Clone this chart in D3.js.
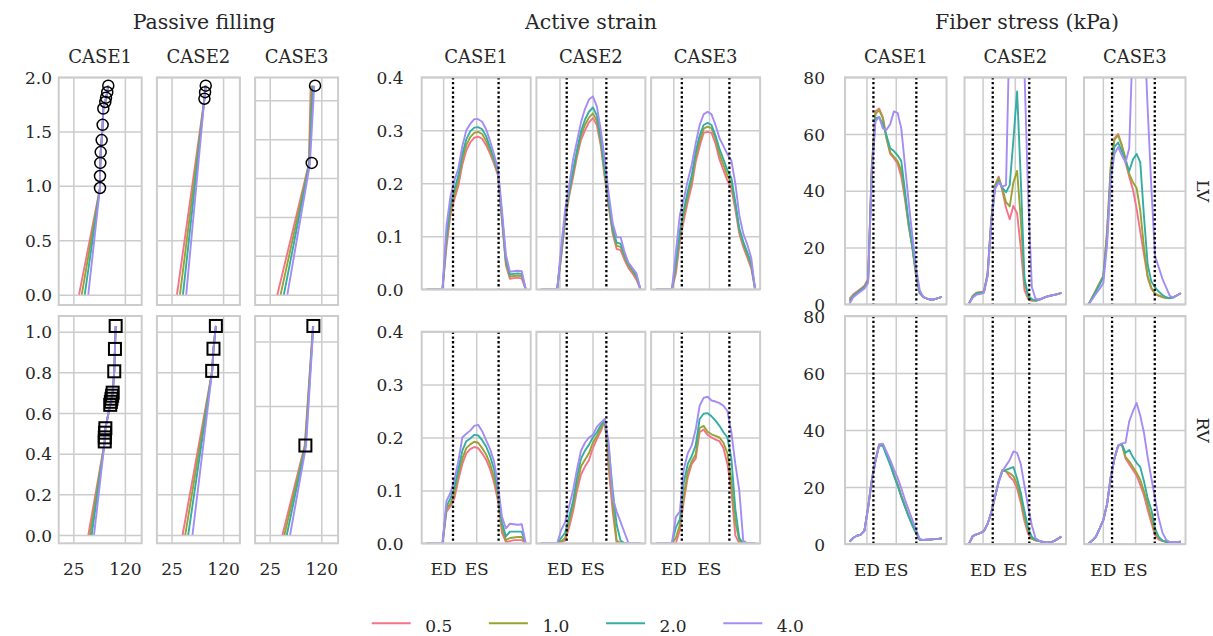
<!DOCTYPE html>
<html><head><meta charset="utf-8">
<script src="https://cdn.jsdelivr.net/npm/d3@7"></script>
<style>
body{margin:0;background:#fff}
svg{display:block}
text{font-family:"DejaVu Serif",serif;fill:#262626}
</style>
</head><body>
<svg id="chart" width="1213" height="636"></svg>
<script>
// ---------------- DATA ----------------
const factors = ["0.5","1.0","2.0","4.0"];
const colors = ["#f77189","#97a431","#36ada4","#a48cf4"];
const cases = ["CASE1","CASE2","CASE3"];
const rows = ["LV","RV"];
const groupTitles = ["Passive filling","Active strain","Fiber stress (kPa)"];
const passiveXTicks = [25,120];
const eventLabels = ["ED","ES"];

// normalized cycle time
const time = [0,0.04,0.08,0.12,0.16,0.2,0.24,0.28,0.32,0.36,0.4,0.44,0.48,0.52,0.56,0.6,0.64,0.68,0.72,0.76,0.8,0.84,0.88,0.92,0.96,1];

// ED / ES tick positions and dotted event lines (per case)
const strainTicks = [[0.166,0.50],[0.183,0.516],[0.174,0.534]];
const strainDots  = [[0.266,0.726],[0.256,0.656],[0.26,0.74]];
const stressTicks = [[0.182,0.50],[0.146,0.495],[0.154,0.504]];
const stressDots  = [[0.258,0.723],[0.256,0.652],[0.254,0.717]];

// Active strain LV (factor 0.5, 1.0, 2.0, 4.0)
const strainLV1 = [
 [0,0,0,0,0,.08,.14,.17,.195,.235,.262,.277,.286,.288,.284,.272,.256,.237,.215,.13,.045,.02,.021,.022,.02,0],
 [0,0,0,0,0,.09,.15,.178,.205,.245,.272,.287,.295,.297,.293,.28,.262,.242,.218,.135,.05,.024,.025,.026,.025,0],
 [0,0,0,0,0,.10,.16,.188,.215,.255,.283,.298,.305,.306,.302,.289,.268,.247,.221,.14,.056,.028,.029,.03,.029,0],
 [0,0,0,0,0,.12,.175,.205,.228,.27,.30,.312,.321,.321,.316,.302,.28,.255,.226,.15,.065,.033,.034,.035,.034,0]];
const strainLV2 = [
 [0,0,0,0,0,.06,.13,.175,.212,.25,.282,.3,.315,.323,.31,.27,.21,.155,.105,.076,.074,.055,.04,.03,.018,0],
 [0,0,0,0,0,.065,.135,.18,.218,.256,.29,.31,.324,.332,.318,.278,.216,.16,.11,.082,.08,.06,.044,.034,.022,0],
 [0,0,0,0,0,.07,.14,.185,.225,.263,.298,.32,.335,.343,.328,.285,.224,.166,.115,.088,.086,.065,.048,.038,.025,0],
 [0,0,0,0,0,.08,.15,.195,.245,.28,.315,.34,.358,.364,.345,.3,.245,.18,.125,.098,.098,.07,.05,.04,.03,0]];
const strainLV3 = [
 [0,0,0,0,0,.03,.09,.13,.165,.195,.24,.27,.295,.297,.295,.275,.245,.225,.205,.19,.15,.105,.08,.06,.04,0],
 [0,0,0,0,0,.04,.10,.14,.175,.205,.25,.28,.303,.307,.304,.285,.255,.235,.215,.2,.16,.11,.085,.065,.045,0],
 [0,0,0,0,0,.05,.11,.15,.185,.215,.26,.29,.31,.314,.31,.29,.265,.245,.225,.21,.165,.115,.09,.07,.05,0],
 [0,0,0,0,0,.07,.14,.17,.205,.235,.275,.31,.33,.335,.33,.31,.285,.27,.255,.243,.2,.14,.105,.085,.06,0]];
// Active strain RV
const strainRV1 = [
 [0,0,0,0,0,.06,.07,.085,.12,.15,.17,.178,.182,.18,.17,.158,.14,.115,.08,.02,.002,.004,.006,.006,.006,0],
 [0,0,0,0,0,.065,.075,.095,.13,.16,.18,.187,.192,.19,.18,.168,.15,.125,.088,.03,.006,.01,.011,.012,.012,0],
 [0,0,0,0,0,.07,.085,.105,.14,.175,.193,.198,.205,.204,.195,.183,.165,.14,.098,.04,.013,.022,.022,.022,.022,0],
 [0,0,0,0,0,.08,.095,.12,.155,.2,.207,.213,.222,.224,.212,.195,.178,.155,.11,.05,.028,.037,.036,.035,.036,0]];
const strainRV2 = [
 [0,0,0,0,0,.002,.005,.03,.06,.1,.13,.145,.157,.18,.197,.212,.232,.14,.06,0,0,0,0,0,0,0],
 [0,0,0,0,0,.004,.01,.04,.07,.11,.145,.158,.17,.19,.203,.217,.233,.155,.075,.005,0,0,0,0,0,0],
 [0,0,0,0,0,.01,.02,.05,.08,.125,.16,.175,.186,.2,.21,.223,.234,.18,.1,.035,.005,0,0,0,0,0],
 [0,0,0,0,0,.025,.04,.07,.1,.14,.175,.19,.2,.205,.22,.228,.235,.19,.085,.06,.04,.02,0,0,0,0]];
const strainRV3 = [
 [0,0,0,0,0,0,.025,.08,.125,.15,.16,.21,.215,.205,.2,.196,.193,.18,.15,.1,.015,0,0,0,0,0],
 [0,0,0,0,0,.01,.035,.09,.135,.155,.168,.218,.222,.211,.206,.203,.2,.19,.17,.12,.04,.005,0,0,0,0],
 [0,0,0,0,0,.03,.045,.115,.15,.165,.185,.235,.245,.246,.24,.232,.222,.21,.2,.16,.065,.01,0,0,0,0],
 [0,0,0,0,0,.05,.06,.14,.17,.185,.215,.26,.275,.277,.27,.268,.265,.26,.25,.21,.15,.1,.005,0,0,0]];
// Fiber stress LV (kPa)
const stressLV1 = [
 [2,3.5,4.5,5.5,6.5,9,48.5,68,69,66,58.5,53,51.5,49.5,45,37,27.5,20,10,4,2.5,2,1.6,1.8,2.2,2.6],
 [1.5,3.2,4.2,5.2,6.2,8.5,47.5,67,68.5,65.5,58.5,53.5,52,50.5,47,38,28,20,10.5,4,2.5,2,1.6,1.8,2.2,2.6],
 [1,3,4,5,6,8,46.5,65.5,66,63.5,59.5,55,54,52.5,50.5,40,29,20.5,11,4,2.5,2,1.6,1.8,2.2,2.6],
 [.3,2.5,3.5,4.5,5.5,7.5,45,64.5,66,62,61.5,63.5,68,67.5,62,49,36,24,13,5,2.5,2,1.6,1.8,2.2,2.6]];
const stressLV2 = [
 [.4,3,4.1,4.3,4.5,11,30,42,45,40,34,30,34.7,32,20,5,1.8,1.2,1.2,1.5,2.2,2.7,3,3.3,3.6,4],
 [.4,2.9,4,4.2,4.4,10.5,29.5,41.5,44.5,41,36,34.5,43,47,30,8,2.5,1.5,1.3,1.6,2.2,2.7,3,3.3,3.6,4],
 [.4,2.7,3.8,4,4.3,10,29,41,43.5,41,39.5,42,58,75,44,9,3,1.8,1.4,1.7,2.2,2.7,3,3.3,3.6,4],
 [.2,2.4,3.4,3.6,4,10,28,40.5,43,41.5,42,100,130,140,120,82,38,6,2,1.6,2.2,2.7,3,3.3,3.6,4]];
const stressLV3 = [
 [0,2.5,5,7.5,10,26,48.5,58.5,60,56,50,45,40.5,33.7,25.5,17.5,9.5,5.5,3.6,3,2.5,2.2,2.1,2.5,3.2,3.9],
 [0,2.5,5,7.5,10,25,48,58,59.5,56,51.5,46,43,41,33,20,10,5.8,3.8,3.1,2.6,2.3,2.2,2.5,3.2,3.9],
 [0,2.2,4.5,7,9.5,23,46,55.5,57,54,50.5,47,51,53,50,31,14,8,6,4.5,3.3,2.5,2.2,2.5,3.2,3.9],
 [0,1.8,3.7,5.5,7.5,21,44,53,55.4,52.5,50,55,95,130,130,100,69,41,17,13,9,6,3,2.4,3.2,3.9]];
// Fiber stress RV (kPa)
const stressRV1 = [
 [.8,2.2,2.9,3.3,4.6,13,22.5,29.5,35,35,31.8,28.5,24.5,21,17,13.5,10,6.8,4,1.5,1.4,1.5,1.6,1.7,1.8,2],
 [.8,2.2,2.9,3.3,4.6,12.8,22.3,29.3,34.8,34.8,31.5,28.3,24.3,20.8,16.8,13.3,9.8,6.7,3.9,1.5,1.4,1.5,1.6,1.7,1.8,2],
 [.8,2.2,2.9,3.3,4.6,12.6,22,29,34.5,34.5,31,27.8,24,20.5,16.5,13,9.6,6.5,3.8,1.5,1.4,1.5,1.6,1.7,1.8,2],
 [.8,2.2,2.9,3.3,4.6,12.5,22,29,34.7,35.2,32.4,29.5,26.2,23.3,19.5,15.5,12,8.5,5,1.8,1.4,1.5,1.6,1.7,1.8,2]];
const stressRV2 = [
 [.2,2.8,3.4,3.8,4.5,7,11,16.5,22,26,25.5,23.6,22.3,19.5,14.5,8,3.5,1.8,1.3,1,.7,.5,.6,1,1.8,2.6],
 [.2,2.8,3.4,3.8,4.5,7,11,16.5,22,25.8,25.5,24.8,23.8,21,16,9.5,4.5,2,1.3,1,.7,.5,.6,1,1.8,2.6],
 [.2,2.8,3.4,3.8,4.5,7,11,16.5,21.8,25.5,26,26.5,27,23,18,11.5,5.5,2.5,1.5,1.1,.7,.5,.6,1,1.8,2.6],
 [.2,2.8,3.4,3.8,4.5,7,11,16.5,21.5,25.5,27.5,29.5,32.5,32,28,20.5,13,6.5,2,1.2,.7,.5,.6,1,1.8,2.6]];
const stressRV3 = [
 [.2,1.2,2.6,5.5,8.5,14,23.5,30,34.5,35,30,28,26,24,20.7,17,12,7.5,3,1.5,1,.8,.6,.5,.6,.8],
 [.2,1.2,2.6,5.5,8.5,14,23.5,30,34.5,35,30.5,29,27,25,22.5,18.5,14,9,4,2,1.2,.8,.6,.5,.6,.8],
 [.2,1.2,2.6,5.5,8.5,14,23.5,30,34.5,35,32,33,30.5,28.5,27,22,16,12,5.5,2.5,1.2,.8,.6,.5,.6,.8],
 [.2,1.2,2.6,5.5,8.5,14,23.5,30,34.5,35.3,35.5,43,46.5,49.5,45,39,30.5,23,16,9,4,1.5,.7,.6,.7,.8]];

// Passive filling: volume (x) vs pressure (y)
const pvLVStart = [[35.5,40.5,46,52.5],[35,40.5,46,52],[39,45,51,57.5]];
const pvLVMarks1 = [[74.1,0.98],[74.1,1.09],[74.7,1.21],[75.4,1.31],[77.2,1.42],[79,1.56],[80.2,1.71],[83.9,1.77],[85.2,1.81],[87.5,1.86],[89.4,1.92]];
const pvLVMarks2 = [[85.6,1.80],[86.8,1.86],[88,1.92]];
const pvLVMarks3 = [[102.4,1.21],[108.5,1.92]];
const pvLVLines3 = [
 [[39,0],[97,1.2],[100.5,1.92]],
 [[45,0],[97.5,1.2],[102.5,1.92]],
 [[51,0],[98,1.2],[104.5,1.92]],
 [[57.5,0],[99,1.2],[107,1.92]]];
const pvRVStart = [[52.6,55.7,58.8,63.1],[45.3,50.2,55.7,63.6],[48.4,52,56.4,62.5]];
const pvRVMarks1 = [[82.9,0.46],[82.9,0.48],[83.4,0.503],[84,0.525],[93,0.64],[94.2,0.655],[95.3,0.67],[96.5,0.685],[97.5,0.70],[100.4,0.805],[101.7,0.915],[103,1.028]];
const pvRVMarks2 = [[99.9,0.807],[102.3,0.916],[106.7,1.028]];
const pvRVMarks3 = [[90.7,0.44],[105.4,1.028]];
const pvRVLines3 = [
 [[48.4,0],[89.5,0.44],[104.6,1.028]],
 [[52,0],[90.2,0.44],[104.9,1.028]],
 [[56.4,0],[91,0.44],[105.1,1.028]],
 [[62.5,0],[92,0.44],[105.4,1.028]]];
const pvLVGrid = [[0,0.5,1,1.5,2],[0,0.5,1,1.5,2],[0,0.357,0.714,1.071,1.428,1.785]];
const pvRVGrid = [[0,0.2,0.4,0.6,0.8,1],[0,0.2,0.4,0.6,0.8,1],[0,0.317,0.634,0.951]];

// ---------------- DRAWING ----------------
const svg = d3.select("#chart");
svg.append("rect").attr("width",1213).attr("height",636).attr("fill","#fff");
const GRID = "#cccccc";
const TICK_FS = 17;
let clipN = 0;

function makePanel(x0, top, bottom, w, xDom, yDom, xGrid, yGrid){
  const x = d3.scaleLinear().domain(xDom).range([x0, x0 + w]);
  const y = d3.scaleLinear().domain(yDom).range([bottom, top]);
  const h = bottom - top;
  const g = svg.append("g");
  g.append("rect").attr("x",x0).attr("y",top).attr("width",w).attr("height",h).attr("fill","#fff");
  const gx = g.append("g").attr("transform",`translate(0,${bottom})`)
    .call(d3.axisBottom(x).tickValues(xGrid).tickSize(-h).tickFormat(""));
  const gy = g.append("g").attr("transform",`translate(${x0},0)`)
    .call(d3.axisLeft(y).tickValues(yGrid).tickSize(-w).tickFormat(""));
  [gx,gy].forEach(a => { a.select(".domain").remove(); a.selectAll("line").attr("stroke",GRID).attr("stroke-width",1.5); });
  const id = "clip" + (clipN++);
  g.append("clipPath").attr("id",id).append("rect").attr("x",x0).attr("y",top).attr("width",w).attr("height",h);
  const plot = g.append("g").attr("clip-path",`url(#${id})`);
  g.append("rect").attr("x",x0).attr("y",top).attr("width",w).attr("height",h)
    .attr("fill","none").attr("stroke",GRID).attr("stroke-width",2);
  return {x, y, plot, x0, w, top, bottom};
}

function leftLabels(p, right, vals, fmt){
  const a = svg.append("g").attr("transform",`translate(${right},0)`)
    .call(d3.axisLeft(p.y).tickValues(vals).tickSize(0).tickPadding(0).tickFormat(fmt));
  a.select(".domain").remove();
  a.selectAll("text").attr("font-family","DejaVu Serif").attr("font-size",TICK_FS).attr("fill","#262626").attr("dy","0.36em");
}
function bottomLabels(p, vals, fmt){
  const a = svg.append("g").attr("transform",`translate(0,${p.bottom})`)
    .call(d3.axisBottom(p.x).tickValues(vals).tickSize(0).tickFormat(fmt));
  a.select(".domain").remove();
  a.selectAll("text").attr("font-family","DejaVu Serif").attr("font-size",TICK_FS).attr("fill","#262626")
    .attr("y", 575.5 - p.bottom).attr("dy",0);
}
function drawSeries(p, xs, ys){
  const line = d3.line().x((d,i)=>p.x(xs[i])).y(d=>p.y(d));
  p.plot.selectAll(null).data(ys).join("path")
    .attr("d", d => line(d)).attr("fill","none")
    .attr("stroke",(d,i)=>colors[i]).attr("stroke-width",1.9).attr("stroke-linejoin","round");
}
function drawXY(p, lines){
  const line = d3.line().x(d=>p.x(d[0])).y(d=>p.y(d[1]));
  p.plot.selectAll(null).data(lines).join("path")
    .attr("d", d => line(d)).attr("fill","none")
    .attr("stroke",(d,i)=>colors[i]).attr("stroke-width",1.9).attr("stroke-linejoin","round");
}
function drawDots(p, vals){
  p.plot.selectAll(null).data(vals).join("line")
    .attr("x1",d=>p.x(d)).attr("x2",d=>p.x(d)).attr("y1",p.top).attr("y2",p.bottom)
    .attr("stroke","#000").attr("stroke-width",2.3).attr("stroke-dasharray","2.3,2.4");
}
function caseLabel(cx, text){
  svg.append("text").attr("x",cx).attr("y",62.7).attr("text-anchor","middle")
    .attr("font-size",18).text(text);
}

// ---- Passive filling ----
const pvXDom = [-2, 151];
const passX = [58.7,156.9,255.1], passW = 83;
const pvLVMarks = [pvLVMarks1,pvLVMarks2,pvLVMarks3];
const pvRVMarks = [pvRVMarks1,pvRVMarks2,pvRVMarks3];
cases.forEach((c,ci)=>{
  const p = makePanel(passX[ci], 77.5, 305, passW, pvXDom, [-0.095,1.995], passiveXTicks, pvLVGrid[ci]);
  const lines = ci===2 ? pvLVLines3 : pvLVStart[ci].map(s => [[s,0]].concat(pvLVMarks[ci]));
  drawXY(p, lines);
  p.plot.selectAll(null).data(pvLVMarks[ci]).join("circle")
    .attr("cx",d=>p.x(d[0])).attr("cy",d=>p.y(d[1])).attr("r",5.5)
    .attr("fill","none").attr("stroke","#000").attr("stroke-width",1.5);
  if(ci===0) leftLabels(p, 52, [0,0.5,1,1.5,2], d3.format(".1f"));
  const q = makePanel(passX[ci], 316, 543.3, passW, pvXDom, [-0.041,1.077], passiveXTicks, pvRVGrid[ci]);
  const rl = ci===2 ? pvRVLines3 : pvRVStart[ci].map(s => [[s,0]].concat(pvRVMarks[ci]));
  drawXY(q, rl);
  q.plot.selectAll(null).data(pvRVMarks[ci]).join("rect")
    .attr("x",d=>q.x(d[0])-6).attr("y",d=>q.y(d[1])-6).attr("width",12).attr("height",12)
    .attr("fill","none").attr("stroke","#000").attr("stroke-width",2);
  if(ci===0) leftLabels(q, 52, [0,0.2,0.4,0.6,0.8,1], d3.format(".1f"));
  bottomLabels(q, passiveXTicks, d=>String(d));
  caseLabel(passX[ci]+passW/2, c);
});

// ---- Active strain ----
const tDom = [-0.05, 1.05];
const strainLV = [strainLV1,strainLV2,strainLV3];
const strainRV = [strainRV1,strainRV2,strainRV3];
const actX = [421.7,536.4,651.1], actW = 109;
cases.forEach((c,ci)=>{
  const p = makePanel(actX[ci], 77.3, 289.3, actW, tDom, [0,0.4], strainTicks[ci], [0,0.1,0.2,0.3,0.4]);
  drawSeries(p, time, strainLV[ci]);
  drawDots(p, strainDots[ci]);
  if(ci===0) leftLabels(p, 403.5, [0,0.1,0.2,0.3,0.4], d3.format(".1f"));
  const q = makePanel(actX[ci], 331.7, 543.3, actW, tDom, [0,0.4], strainTicks[ci], [0,0.1,0.2,0.3,0.4]);
  drawSeries(q, time, strainRV[ci]);
  drawDots(q, strainDots[ci]);
  if(ci===0) leftLabels(q, 403.5, [0,0.1,0.2,0.3,0.4], d3.format(".1f"));
  bottomLabels(q, strainTicks[ci], (d,i)=>eventLabels[i]);
  caseLabel(actX[ci]+actW/2, c);
});

// ---- Fiber stress ----
const stressLV = [stressLV1,stressLV2,stressLV3];
const stressRV = [stressRV1,stressRV2,stressRV3];
const fibX = [845,964.5,1084], fibW = 101.5;
cases.forEach((c,ci)=>{
  const p = makePanel(fibX[ci], 77.3, 304.3, fibW, tDom, [0,80], stressTicks[ci], [0,20,40,60,80]);
  drawSeries(p, time, stressLV[ci]);
  drawDots(p, stressDots[ci]);
  if(ci===0) leftLabels(p, 825, [0,20,40,60,80], d3.format("d"));
  const q = makePanel(fibX[ci], 316, 544, fibW, tDom, [0,80], stressTicks[ci], [0,20,40,60,80]);
  drawSeries(q, time, stressRV[ci]);
  drawDots(q, stressDots[ci]);
  if(ci===0) leftLabels(q, 825, [0,20,40,60,80], d3.format("d"));
  bottomLabels(q, stressTicks[ci], (d,i)=>eventLabels[i]);
  caseLabel(fibX[ci]+fibW/2, c);
});

// row labels
[[1203,191],[1203,430]].forEach((pos,i)=>{
  svg.append("text").attr("transform",`translate(${pos[0]},${pos[1]}) rotate(90)`)
    .attr("text-anchor","middle").attr("dy","0.35em").attr("font-size",17.5).text(rows[i]);
});

// group titles
[204,591,1027].forEach((cx,i)=>{
  svg.append("text").attr("x",cx).attr("y",29.3).attr("text-anchor","middle")
    .attr("font-size",20.5).text(groupTitles[i]);
});

// legend
const leg = svg.append("g");
factors.forEach((f,i)=>{
  const x0 = 371.7 + i*117.2;
  leg.append("line").attr("x1",x0).attr("x2",x0+39).attr("y1",623.3).attr("y2",623.3)
    .attr("stroke",colors[i]).attr("stroke-width",2);
  leg.append("text").attr("x",x0+53.5).attr("y",632).attr("font-size",17).text(f);
});
</script>
</body></html>
